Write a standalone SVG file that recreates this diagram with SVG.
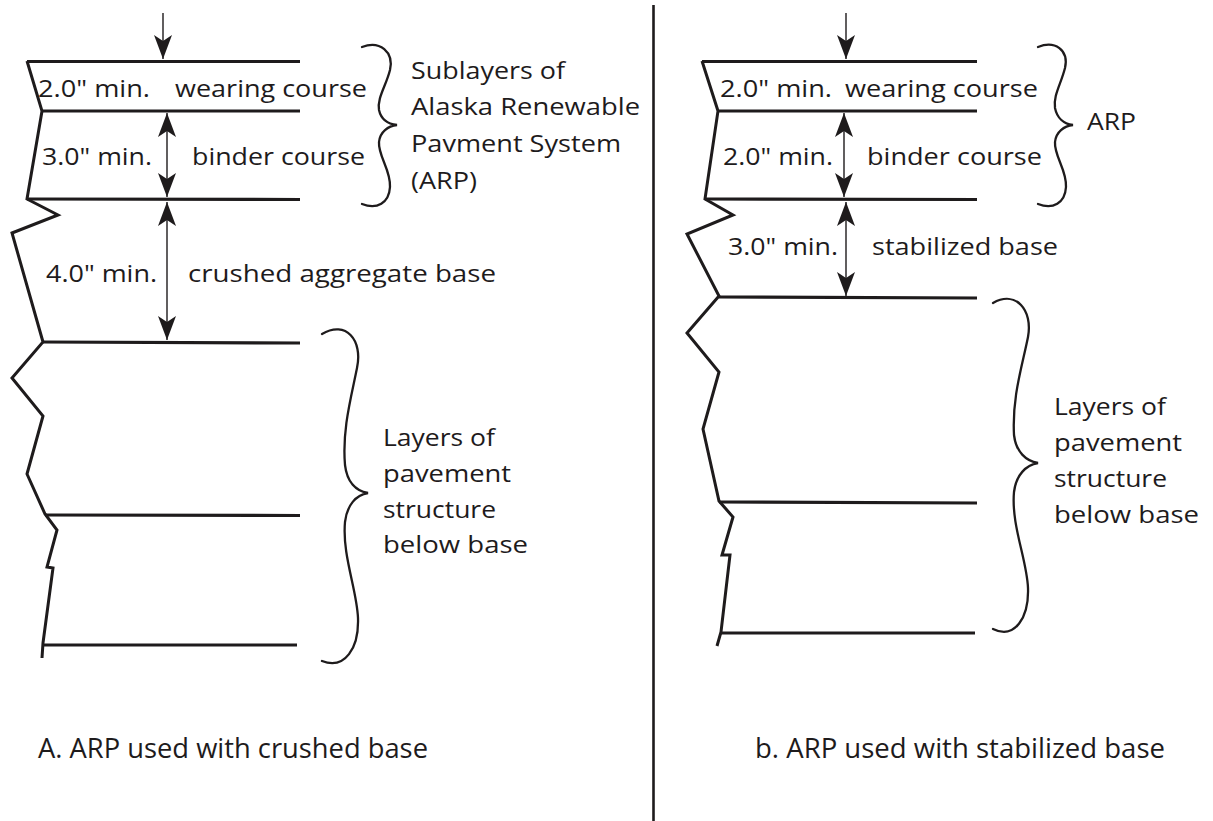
<svg xmlns="http://www.w3.org/2000/svg" width="1213" height="821" viewBox="0 0 1213 821">
<style>
.t{font-family:"Open Sans","Liberation Sans",sans-serif;font-size:24px;fill:#1e1b1c}
.c{font-family:"Open Sans","Liberation Sans",sans-serif;font-size:27px;fill:#1e1b1c}
.ly{stroke:#1e1b1c;stroke-width:3.2;fill:none;stroke-linecap:butt}
.ed{stroke:#1e1b1c;stroke-width:3;fill:none;stroke-linejoin:miter}
.br{stroke:#1e1b1c;stroke-width:2.3;fill:none;stroke-linecap:round}
.ar{stroke:#1e1b1c;stroke-width:1.4;fill:none}
</style>
<defs>
<marker id="ah" markerUnits="userSpaceOnUse" markerWidth="28" markerHeight="22" viewBox="-27 -11 28 22" refX="0" refY="0" orient="auto-start-reverse">
<path d="M0,0 L-24,-9 L-18,0 L-24,9 Z" fill="#1e1b1c"/>
</marker>
</defs>
<rect width="1213" height="821" fill="#fff"/>
<line x1="653.5" y1="5" x2="653.5" y2="821" stroke="#1e1b1c" stroke-width="2.6"/>

<g id="panelA">
<g id="A-layers">
<line class="ly" x1="27" y1="61.5" x2="300" y2="61.5"/>
<line class="ly" x1="42" y1="111" x2="300" y2="111"/>
<line class="ly" x1="27" y1="199" x2="300" y2="199.5"/>
<line class="ly" x1="43" y1="342" x2="300" y2="343"/>
<line class="ly" x1="45" y1="515" x2="300" y2="515.5"/>
<line class="ly" x1="43" y1="645" x2="297" y2="645" stroke-width="4"/>
<polyline class="ed" points="27,61 42,111 27,199 58,215 12,233 43,342 12,378 43,416 27,474 45,514 57,530 47,567 53,568 43,643 42,658"/>
</g>
<g id="A-texts">
<text class="t" x="38" y="97" textLength="112" lengthAdjust="spacingAndGlyphs">2.0" min.</text>
<text class="t" x="175" y="97" textLength="192" lengthAdjust="spacingAndGlyphs">wearing course</text>
<text class="t" x="42" y="165" textLength="110" lengthAdjust="spacingAndGlyphs">3.0" min.</text>
<text class="t" x="192" y="165" textLength="173" lengthAdjust="spacingAndGlyphs">binder course</text>
<text class="t" x="46" y="282" textLength="111" lengthAdjust="spacingAndGlyphs">4.0" min.</text>
<text class="t" x="188" y="282" textLength="308" lengthAdjust="spacingAndGlyphs">crushed aggregate base</text>
</g>
<g id="A-arp-brace">
<path class="br" d="M362,47 C380,40 394,52 390,70 C386,86 377,98 379,110 C381,119 388,124 397,125 C388,126 380,132 379,142 C378,156 391,170 390,187 C389,203 377,210 362,204"/>
<text class="t" x="411" y="79" textLength="154" lengthAdjust="spacingAndGlyphs">Sublayers of</text>
<text class="t" x="411" y="115" textLength="229" lengthAdjust="spacingAndGlyphs">Alaska Renewable</text>
<text class="t" x="411" y="152" textLength="210" lengthAdjust="spacingAndGlyphs">Pavment System</text>
<text class="t" x="411" y="189" textLength="66" lengthAdjust="spacingAndGlyphs">(ARP)</text>
</g>
<g id="A-below-brace">
<path class="br" d="M322,334 C346,320 363,340 357,368 C351,398 342,430 345,465 C347,482 356,491 368,493 C356,495 347,505 345,522 C342,555 357,590 358,618 C359,648 345,670 322,661"/>
<text class="t" x="383" y="446" textLength="112" lengthAdjust="spacingAndGlyphs">Layers of</text>
<text class="t" x="383" y="482" textLength="128" lengthAdjust="spacingAndGlyphs">pavement</text>
<text class="t" x="383" y="518" textLength="113" lengthAdjust="spacingAndGlyphs">structure</text>
<text class="t" x="383" y="553" textLength="145" lengthAdjust="spacingAndGlyphs">below base</text>
</g>
<text id="A-caption" class="c" x="38" y="758" textLength="390" lengthAdjust="spacingAndGlyphs">A. ARP used with crushed base</text>
</g>

<g id="panelB">
<g id="B-layers">
<line class="ly" x1="702" y1="61.5" x2="977" y2="61.5"/>
<line class="ly" x1="718" y1="111" x2="977" y2="111"/>
<line class="ly" x1="705" y1="199" x2="977" y2="199.5"/>
<line class="ly" x1="719" y1="297" x2="977" y2="298"/>
<line class="ly" x1="719" y1="502" x2="977" y2="503"/>
<line class="ly" x1="721" y1="633" x2="975" y2="633"/>
<polyline class="ed" points="702,61 718,111 705,199 733,215 687,234 719,296 687,333 719,372 703,429 719,501 733,517 722,555 730,555 721,632 717,646"/>
</g>
<g id="B-texts">
<text class="t" x="720" y="97" textLength="112" lengthAdjust="spacingAndGlyphs">2.0" min.</text>
<text class="t" x="845" y="97" textLength="193" lengthAdjust="spacingAndGlyphs">wearing course</text>
<text class="t" x="723" y="165" textLength="110" lengthAdjust="spacingAndGlyphs">2.0" min.</text>
<text class="t" x="867" y="165" textLength="175" lengthAdjust="spacingAndGlyphs">binder course</text>
<text class="t" x="728" y="255" textLength="110" lengthAdjust="spacingAndGlyphs">3.0" min.</text>
<text class="t" x="872" y="255" textLength="186" lengthAdjust="spacingAndGlyphs">stabilized base</text>
</g>
<g id="B-arp-brace">
<path class="br" d="M1038,47 C1055,40 1069,50 1065,68 C1061,84 1053,96 1055,108 C1057,118 1064,124 1073,125 C1064,126 1056,132 1055,142 C1054,156 1067,170 1066,187 C1065,203 1053,210 1038,204"/>
<text class="t" x="1087" y="130" textLength="49" lengthAdjust="spacingAndGlyphs">ARP</text>
</g>
<g id="B-below-brace">
<path class="br" d="M993,303 C1016,290 1033,310 1028,337 C1022,367 1012,397 1014,435 C1016,452 1026,461 1038,463 C1026,465 1016,475 1014,492 C1011,525 1027,560 1028,588 C1029,617 1015,640 993,629"/>
<text class="t" x="1054" y="415" textLength="112" lengthAdjust="spacingAndGlyphs">Layers of</text>
<text class="t" x="1054" y="451" textLength="128" lengthAdjust="spacingAndGlyphs">pavement</text>
<text class="t" x="1054" y="487" textLength="113" lengthAdjust="spacingAndGlyphs">structure</text>
<text class="t" x="1054" y="523" textLength="145" lengthAdjust="spacingAndGlyphs">below base</text>
</g>
<text id="B-caption" class="c" x="755" y="758" textLength="410" lengthAdjust="spacingAndGlyphs">b. ARP used with stabilized base</text>
</g>

<g id="connectors">
<line class="ar" x1="163" y1="13" x2="163" y2="59" marker-end="url(#ah)"/>
<line class="ar" x1="167" y1="113" x2="167" y2="197" marker-start="url(#ah)" marker-end="url(#ah)"/>
<line class="ar" x1="167" y1="202" x2="167" y2="340" marker-start="url(#ah)" marker-end="url(#ah)"/>
<line class="ar" x1="846" y1="13" x2="846" y2="59" marker-end="url(#ah)"/>
<line class="ar" x1="844" y1="113" x2="844" y2="197" marker-start="url(#ah)" marker-end="url(#ah)"/>
<line class="ar" x1="846" y1="202" x2="846" y2="296" marker-start="url(#ah)" marker-end="url(#ah)"/>
</g>
</svg>
